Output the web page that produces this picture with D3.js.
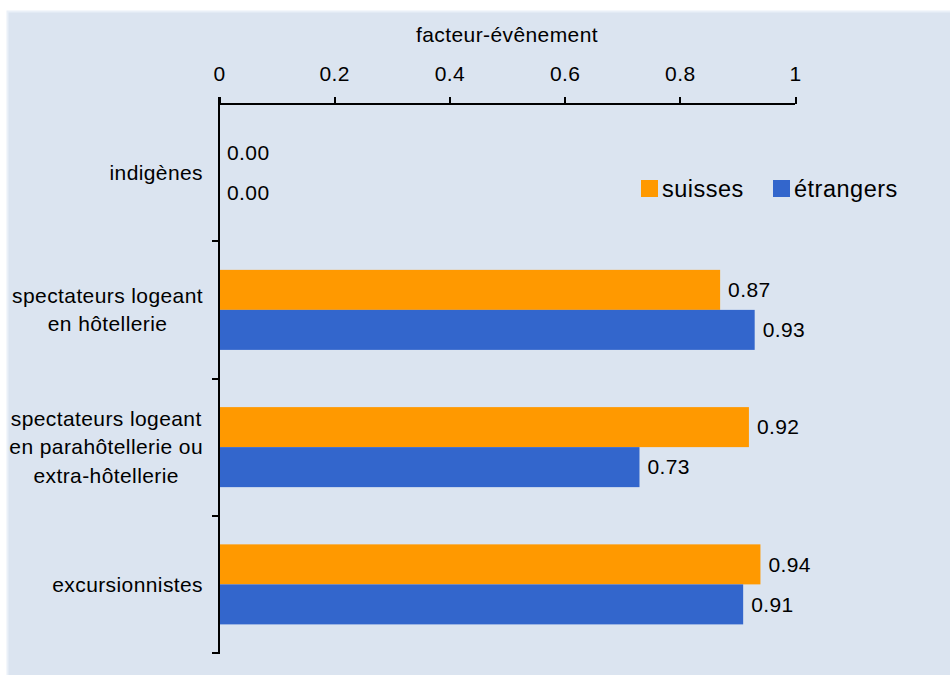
<!DOCTYPE html>
<html>
<head>
<meta charset="utf-8">
<script src="https://cdn.jsdelivr.net/npm/d3@7"></script>
<style>
  html, body { margin: 0; padding: 0; background: #ffffff; }
  svg { display: block; font-family: "Liberation Sans", Arial, sans-serif; }
  .axis path, .axis line { stroke: #000; stroke-width: 2; shape-rendering: crispEdges; }
  .axis text { fill: #000; }
</style>
</head>
<body>
<svg id="chart" width="950" height="675"></svg>
<script>
// Categories (label lines) and values per series
const categories = [
  ["indigènes"],
  ["spectateurs logeant", "en hôtellerie"],
  ["spectateurs logeant", "en parahôtellerie ou", "extra-hôtellerie"],
  ["excursionnistes"]
];
const categoryKeys = ["indigenes", "hotellerie", "parahotellerie", "excursionnistes"];
const suissesValues = [0.00, 0.87, 0.92, 0.94];
const etrangersValues = [0.00, 0.93, 0.73, 0.91];
const seriesNames = ["suisses", "étrangers"];
const seriesColors = ["#FF9900", "#3366CC"];
const xTicks = [0, 0.2, 0.4, 0.6, 0.8, 1];
const xAxisTitle = "facteur-évênement";

const FONT = 21, SPACING = 0.4;

const svg = d3.select("#chart");

// Panel background
svg.append("rect")
  .attr("x", 7.5).attr("y", 11.5)
  .attr("width", 950).attr("height", 670)
  .attr("fill", "#DBE4F0")
  .attr("stroke", "#EAF0F8").attr("stroke-width", 2);

const plotLeft = 219, plotRight = 795, plotTop = 104, plotBottom = 653;

const x = d3.scaleLinear().domain([0, 1]).range([plotLeft, plotRight]);
const y = d3.scaleBand().domain(categoryKeys).range([plotTop, plotBottom])
  .paddingInner(0.417).paddingOuter(0.2085);
const ySub = d3.scaleBand().domain(seriesNames).range([0, y.bandwidth()]);

const rows = categoryKeys.map((k, i) => ({
  key: k, lines: categories[i],
  values: [suissesValues[i], etrangersValues[i]]
}));

// Bars
const groups = svg.append("g").selectAll("g").data(rows).join("g")
  .attr("transform", d => `translate(0,${y(d.key)})`);

groups.selectAll("rect").data(d => d.values.map((v, j) => ({ v, s: seriesNames[j], c: seriesColors[j] })))
  .join("rect")
  .attr("x", x(0))
  .attr("y", d => ySub(d.s))
  .attr("width", d => x(d.v) - x(0))
  .attr("height", ySub.bandwidth())
  .attr("fill", d => d.c);

// Value labels
groups.selectAll("text").data(d => d.values.map((v, j) => ({ v, s: seriesNames[j] })))
  .join("text")
  .attr("x", d => x(d.v) + 8)
  .attr("y", d => ySub(d.s) + ySub.bandwidth() / 2)
  .attr("dy", "0.35em")
  .attr("font-size", FONT)
  .attr("letter-spacing", SPACING)
  .attr("fill", "#000")
  .text(d => d3.format(".2f")(d.v));

// Top axis
const xAxis = svg.append("g").attr("class", "axis")
  .attr("transform", `translate(0,${plotTop})`)
  .call(d3.axisTop(x).tickValues(xTicks).tickFormat(d3.format("")).tickSize(7).tickSizeOuter(0));
xAxis.selectAll("text").attr("font-size", FONT).attr("letter-spacing", SPACING).attr("dy", "-0.62em");
xAxis.select(".domain").attr("d", `M${plotLeft},0H${plotRight}`);

svg.append("text")
  .attr("x", (plotLeft + plotRight) / 2).attr("y", 42)
  .attr("text-anchor", "middle")
  .attr("font-size", FONT)
  .attr("letter-spacing", SPACING)
  .attr("fill", "#000")
  .text(xAxisTitle);

// Left axis: line with ticks at category boundaries
const yAxisG = svg.append("g").attr("class", "axis");
yAxisG.append("line")
  .attr("x1", plotLeft).attr("x2", plotLeft)
  .attr("y1", plotTop - 7).attr("y2", plotBottom + 1);
const step = y.step();
const boundaries = d3.range(categoryKeys.length + 1).map(i => plotTop + i * step);
yAxisG.selectAll("line.tick").data(boundaries.slice(1)).join("line")
  .attr("class", "tick")
  .attr("x1", plotLeft - 7).attr("x2", plotLeft)
  .attr("y1", d => d).attr("y2", d => d);

// Category labels: lines centred within a box right-aligned to the axis
const labelRight = 203;
const lineH = 28.5;
rows.forEach(r => {
  const g = svg.append("g");
  const cy = y(r.key) + y.bandwidth() / 2;
  const texts = r.lines.map((ln, i) => g.append("text")
    .attr("font-size", FONT)
    .attr("letter-spacing", SPACING)
    .attr("fill", "#000")
    .attr("text-anchor", "middle")
    .attr("dy", "0.35em")
    .attr("y", cy + (i - (r.lines.length - 1) / 2) * lineH)
    .text(ln));
  const w = d3.max(texts, t => t.node().getComputedTextLength());
  texts.forEach(t => t.attr("x", labelRight - w / 2));
});

// Legend
const legend = svg.append("g").attr("transform", "translate(641,180)");
const legendX = [0, 132];
seriesNames.forEach((name, i) => {
  const lg = legend.append("g").attr("transform", `translate(${legendX[i]},0)`);
  lg.append("rect").attr("width", 17).attr("height", 17).attr("fill", seriesColors[i]);
  lg.append("text").attr("x", 21).attr("y", 16.5)
    .attr("font-size", 23.5).attr("letter-spacing", 0.5).attr("fill", "#000")
    .text(name);
});
</script>
</body>
</html>
